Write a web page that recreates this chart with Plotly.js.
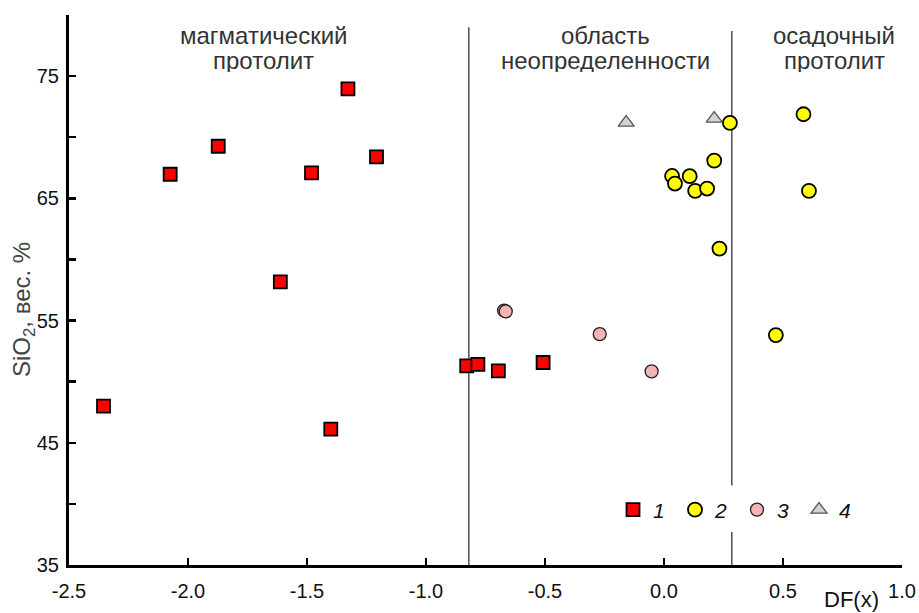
<!DOCTYPE html>
<html>
<head>
<meta charset="utf-8">
<script src="https://cdn.plot.ly/plotly-3.0.1.min.js"></script>
<style>html,body{margin:0;padding:0;background:#fff;}#chart{width:919px;height:613px;}</style>
</head>
<body>
<div id="chart"></div>
<script>
// Series 1 – red squares
const s1x = [-2.355, -2.075, -1.873, -1.481, -1.328, -1.208, -1.612, -1.400, -0.829, -0.782, -0.696, -0.508];
const s1y = [48.0, 66.97, 69.26, 67.08, 73.95, 68.39, 58.17, 46.12, 51.30, 51.41, 50.89, 51.57];
// Series 2 – yellow circles
const s2x = [0.277, 0.586, 0.211, 0.034, 0.046, 0.108, 0.131, 0.181, 0.609, 0.233, 0.470];
const s2y = [71.17, 71.88, 68.09, 66.83, 66.21, 66.81, 65.61, 65.80, 65.61, 60.89, 53.81];
// Series 3 – pink circles
const s3x = [-0.672, -0.270, -0.052, -0.665];
const s3y = [55.82, 53.89, 50.84, 55.75];
// Series 4 – grey triangles
const s4x = [-0.159, 0.211];
const s4y = [71.20, 71.52];
// Boundaries of DF(x)
const boundLeft = -0.82;
const boundRight = 0.285;
// Axis ticks
const xTicks = [-2.5, -2.0, -1.5, -1.0, -0.5, 0.0, 0.5, 1.0];
const xTickText = ['-2.5', '-2.0', '-1.5', '-1.0', '-0.5', '0.0', '0.5', '1.0'];
const yTicks = [35, 40, 45, 50, 55, 60, 65, 70, 75, 80];
const yTickText = ['35', '', '45', '', '55', '', '65', '', '75', ''];
const seriesNames = ['1', '2', '3', '4'];
// Field labels
const fieldLines = [
  ['магматический', 'протолит'],
  ['область', 'неопределенности'],
  ['осадочный', 'протолит']
];

const W = 919, H = 613, ML = 69, MR = 17, MT = 15, MB = 48;
const PW = W - ML - MR, PH = H - MT - MB;
const px = v => (v - ML) / PW;
const py = v => 1 - (v - MT) / PH;

const traces = [
  {x: s1x, y: s1y, name: seriesNames[0], type: 'scatter', mode: 'markers', legendrank: 1,
   marker: {symbol: 'square', size: 13, color: '#ff0000', line: {color: '#000', width: 1.8}}},
  {x: s3x, y: s3y, name: seriesNames[2], type: 'scatter', mode: 'markers', legendrank: 3,
   marker: {symbol: 'circle', size: 13, color: '#f4b4b4', line: {color: '#222', width: 1.3}}},
  {x: s2x, y: s2y, name: seriesNames[1], type: 'scatter', mode: 'markers', legendrank: 2,
   marker: {symbol: 'circle', size: 14, color: '#ffff00', line: {color: '#000', width: 1.8}}},
  {x: s4x, y: s4y, name: seriesNames[3], type: 'scatter', mode: 'markers', legendrank: 4,
   marker: {symbol: 'triangle-up', size: 14, color: '#d4d4d4', line: {color: '#555', width: 1.3}}}
];

const lineStyle = {color: '#333', width: 1.3};
const annotations = [];
const fieldX = [263, 605, 834];
fieldLines.forEach((lines, i) => {
  lines.forEach((t, j) => {
    annotations.push({xref: 'paper', yref: 'paper', x: px(fieldX[i]), y: py(35 + j * 25), text: t,
      showarrow: false, xanchor: 'center', yanchor: 'middle', height: 24, valign: 'middle',
      font: {size: 24, color: '#333'}});
  });
});
annotations.push({xref: 'paper', yref: 'paper', x: px(851), y: py(599), text: 'DF(x)',
  showarrow: false, font: {size: 22, color: '#111'}, xanchor: 'center', yanchor: 'middle'});
annotations.push({xref: 'paper', yref: 'paper', x: px(23), y: py(310), text: 'SiO<sub>2</sub>, вес. %',
  showarrow: false, textangle: -90, font: {size: 24, color: '#444'}, xanchor: 'center', yanchor: 'middle'});

const layout = {
  width: W, height: H,
  margin: {l: ML, r: MR, t: MT, b: MB},
  paper_bgcolor: '#fff', plot_bgcolor: '#fff',
  font: {family: 'Liberation Sans, Arial, sans-serif', color: '#111'},
  showlegend: true,
  legend: {orientation: 'h', x: px(613), y: py(510), xanchor: 'left', yanchor: 'middle',
           font: {size: 21, style: 'italic', color: '#111'}, bgcolor: 'rgba(0,0,0,0)',
           traceorder: 'normal', entrywidth: 17, entrywidthmode: 'pixels'},
  xaxis: {range: [-2.5, 1.0], tickvals: xTicks, ticktext: xTickText, ticks: 'inside', ticklen: 7,
          tickwidth: 2.5, tickcolor: '#000', showline: true, linecolor: '#000', linewidth: 3,
          showgrid: false, zeroline: false, tickfont: {size: 20, color: '#111'}, ticklabelstandoff: 6},
  yaxis: {range: [35, 80], tickvals: yTicks, ticktext: yTickText, ticks: 'inside', ticklen: 7,
          tickwidth: 2.5, tickcolor: '#000', showline: true, linecolor: '#000', linewidth: 3,
          showgrid: false, zeroline: false, tickfont: {size: 20, color: '#111'}, ticklabelstandoff: 3},
  shapes: [
    {type: 'line', xref: 'x', yref: 'y', x0: boundLeft, x1: boundLeft, y0: 35, y1: 79.0, line: lineStyle, layer: 'below'},
    {type: 'line', xref: 'x', yref: 'y', x0: boundRight, x1: boundRight, y0: 35, y1: 37.7, line: lineStyle, layer: 'below'},
    {type: 'line', xref: 'x', yref: 'y', x0: boundRight, x1: boundRight, y0: 41.5, y1: 78.7, line: lineStyle, layer: 'below'}
  ],
  annotations: annotations
};
Plotly.newPlot('chart', traces, layout, {displayModeBar: false, staticPlot: true});
</script>
</body>
</html>
